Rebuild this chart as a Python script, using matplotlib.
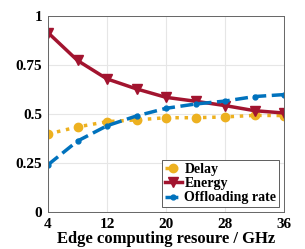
import numpy as np
import matplotlib
matplotlib.use("Agg")
import matplotlib.pyplot as plt

resource = [4, 8, 12, 16, 20, 24, 28, 32, 36]
delay = [0.398, 0.434, 0.461, 0.470, 0.481, 0.481, 0.485, 0.493, 0.492]
energy = [0.915, 0.773, 0.679, 0.628, 0.585, 0.565, 0.543, 0.517, 0.505]
offloading = [0.241, 0.362, 0.440, 0.490, 0.529, 0.551, 0.566, 0.589, 0.599]

x_ticks = [4, 12, 20, 28, 36]
y_ticks = [0, 0.25, 0.5, 0.75, 1]
y_tick_labels = ['0', '0.25', '0.5', '0.75', '1']

plt.rcParams['font.family'] = 'Liberation Serif'
plt.rcParams['font.weight'] = 'bold'

fig = plt.figure(figsize=(3.05, 2.49), dpi=100)
ax = fig.add_axes([48 / 305, 1 - 212 / 249, 236 / 305, 196 / 249])

ax.plot(resource, delay, color='#EDB120', linestyle=':', linewidth=2.5,
        marker='o', markersize=6, label='Delay')
ax.plot(resource, energy, color='#A2142F', linestyle='-', linewidth=2.5,
        marker='v', markersize=7, label='Energy')
ax.plot(resource, offloading, color='#0072BD', linestyle='--', linewidth=2.5,
        marker='o', markersize=3.5, label='Offloading rate')

ax.set_xlim(4, 36)
ax.set_ylim(0, 1)
ax.set_xticks(x_ticks)
ax.set_yticks(y_ticks)
ax.set_yticklabels(y_tick_labels)
ax.tick_params(labelsize=11, length=0, pad=4)
ax.grid(True, color='#e6e6e6', linewidth=0.8)
for spine in ax.spines.values():
    spine.set_color('#666666')
    spine.set_linewidth(0.7)

ax.set_xlabel('Edge computing resoure / GHz', fontsize=12, fontweight='bold', labelpad=0)

leg = ax.legend(loc='lower right', fontsize=10, handlelength=1.2, handletextpad=0.2,
                borderpad=0.2, labelspacing=0.1, borderaxespad=0.35, fancybox=False,
                framealpha=1)
leg.get_frame().set_edgecolor('#444444')
leg.get_frame().set_linewidth(0.6)

fig.savefig('out.png', dpi=100)
